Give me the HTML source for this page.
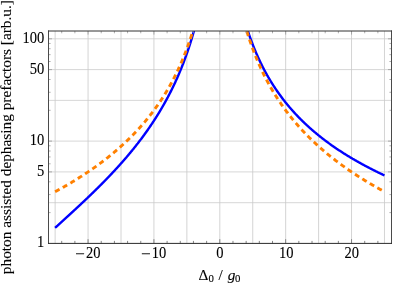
<!DOCTYPE html><html><head><meta charset="utf-8"><style>html,body{margin:0;padding:0;background:#fff}body{width:395px;height:284px;overflow:hidden;position:relative;font-family:"Liberation Serif",serif}</style></head><body><svg width="395" height="284" viewBox="0 0 395 284" style="position:absolute;left:0;top:0;will-change:transform">
<defs><clipPath id="c"><rect x="48.50" y="31.00" width="343.00" height="212.40"/></clipPath></defs>
<g stroke="#c6c6c6" stroke-width="0.75" fill="none"><line x1="55.13" y1="31.00" x2="55.13" y2="243.40"/><line x1="88.06" y1="31.00" x2="88.06" y2="243.40"/><line x1="121.00" y1="31.00" x2="121.00" y2="243.40"/><line x1="153.93" y1="31.00" x2="153.93" y2="243.40"/><line x1="186.87" y1="31.00" x2="186.87" y2="243.40"/><line x1="219.80" y1="31.00" x2="219.80" y2="243.40"/><line x1="252.74" y1="31.00" x2="252.74" y2="243.40"/><line x1="285.67" y1="31.00" x2="285.67" y2="243.40"/><line x1="318.61" y1="31.00" x2="318.61" y2="243.40"/><line x1="351.54" y1="31.00" x2="351.54" y2="243.40"/><line x1="384.48" y1="31.00" x2="384.48" y2="243.40"/></g>
<g stroke="#cacaca" stroke-width="0.75" fill="none"><line x1="48.50" y1="202.69" x2="391.50" y2="202.69"/><line x1="48.50" y1="171.90" x2="391.50" y2="171.90"/><line x1="48.50" y1="141.10" x2="391.50" y2="141.10"/><line x1="48.50" y1="100.39" x2="391.50" y2="100.39"/><line x1="48.50" y1="69.60" x2="391.50" y2="69.60"/><line x1="48.50" y1="38.80" x2="391.50" y2="38.80"/></g>
<g clip-path="url(#c)" fill="none" stroke-width="2.4">
<path d="M55.13,227.82 L55.49,227.49 L55.85,227.16 L56.21,226.83 L56.57,226.50 L56.94,226.17 L57.30,225.84 L57.66,225.51 L58.02,225.18 L58.39,224.85 L58.75,224.52 L59.11,224.19 L59.47,223.86 L59.83,223.53 L60.20,223.20 L60.56,222.87 L60.92,222.54 L61.28,222.21 L61.65,221.87 L62.01,221.54 L62.37,221.21 L62.73,220.88 L63.10,220.55 L63.46,220.22 L63.82,219.89 L64.18,219.56 L64.54,219.23 L64.91,218.90 L65.27,218.57 L65.63,218.23 L65.99,217.90 L66.36,217.57 L66.72,217.24 L67.08,216.91 L67.44,216.58 L67.80,216.24 L68.17,215.91 L68.53,215.58 L68.89,215.25 L69.25,214.91 L69.62,214.58 L69.98,214.25 L70.34,213.92 L70.70,213.58 L71.07,213.25 L71.43,212.92 L71.79,212.58 L72.15,212.25 L72.51,211.91 L72.88,211.58 L73.24,211.25 L73.60,210.91 L73.96,210.58 L74.33,210.24 L74.69,209.91 L75.05,209.57 L75.41,209.23 L75.78,208.90 L76.14,208.56 L76.50,208.23 L76.86,207.89 L77.22,207.55 L77.59,207.21 L77.95,206.88 L78.31,206.54 L78.67,206.20 L79.04,205.86 L79.40,205.53 L79.76,205.19 L80.12,204.85 L80.48,204.51 L80.85,204.17 L81.21,203.83 L81.57,203.49 L81.93,203.15 L82.30,202.81 L82.66,202.47 L83.02,202.12 L83.38,201.78 L83.75,201.44 L84.11,201.10 L84.47,200.76 L84.83,200.41 L85.19,200.07 L85.56,199.73 L85.92,199.38 L86.28,199.04 L86.64,198.69 L87.01,198.35 L87.37,198.00 L87.73,197.65 L88.09,197.31 L88.46,196.96 L88.82,196.61 L89.18,196.27 L89.54,195.92 L89.90,195.57 L90.27,195.22 L90.63,194.87 L90.99,194.52 L91.35,194.17 L91.72,193.82 L92.08,193.47 L92.44,193.12 L92.80,192.77 L93.16,192.41 L93.53,192.06 L93.89,191.71 L94.25,191.35 L94.61,191.00 L94.98,190.64 L95.34,190.29 L95.70,189.93 L96.06,189.58 L96.43,189.22 L96.79,188.86 L97.15,188.51 L97.51,188.15 L97.87,187.79 L98.24,187.43 L98.60,187.07 L98.96,186.71 L99.32,186.35 L99.69,185.98 L100.05,185.62 L100.41,185.26 L100.77,184.90 L101.14,184.53 L101.50,184.17 L101.86,183.80 L102.22,183.44 L102.58,183.07 L102.95,182.70 L103.31,182.34 L103.67,181.97 L104.03,181.60 L104.40,181.23 L104.76,180.86 L105.12,180.49 L105.48,180.12 L105.84,179.74 L106.21,179.37 L106.57,179.00 L106.93,178.62 L107.29,178.25 L107.66,177.87 L108.02,177.50 L108.38,177.12 L108.74,176.74 L109.11,176.36 L109.47,175.98 L109.83,175.60 L110.19,175.22 L110.55,174.84 L110.92,174.46 L111.28,174.08 L111.64,173.69 L112.00,173.31 L112.37,172.92 L112.73,172.54 L113.09,172.15 L113.45,171.76 L113.82,171.37 L114.18,170.98 L114.54,170.59 L114.90,170.20 L115.26,169.81 L115.63,169.41 L115.99,169.02 L116.35,168.63 L116.71,168.23 L117.08,167.83 L117.44,167.44 L117.80,167.04 L118.16,166.64 L118.52,166.24 L118.89,165.84 L119.25,165.44 L119.61,165.03 L119.97,164.63 L120.34,164.22 L120.70,163.82 L121.06,163.41 L121.42,163.00 L121.79,162.59 L122.15,162.18 L122.51,161.77 L122.87,161.36 L123.23,160.95 L123.60,160.53 L123.96,160.12 L124.32,159.70 L124.68,159.28 L125.05,158.86 L125.41,158.44 L125.77,158.02 L126.13,157.60 L126.50,157.18 L126.86,156.75 L127.22,156.33 L127.58,155.90 L127.94,155.47 L128.31,155.04 L128.67,154.61 L129.03,154.18 L129.39,153.75 L129.76,153.31 L130.12,152.88 L130.48,152.44 L130.84,152.00 L131.20,151.56 L131.57,151.12 L131.93,150.68 L132.29,150.24 L132.65,149.79 L133.02,149.35 L133.38,148.90 L133.74,148.45 L134.10,148.00 L134.47,147.55 L134.83,147.09 L135.19,146.64 L135.55,146.18 L135.91,145.73 L136.28,145.27 L136.64,144.81 L137.00,144.34 L137.36,143.88 L137.73,143.42 L138.09,142.95 L138.45,142.48 L138.81,142.01 L139.18,141.54 L139.54,141.07 L139.90,140.59 L140.26,140.11 L140.62,139.64 L140.99,139.16 L141.35,138.67 L141.71,138.19 L142.07,137.71 L142.44,137.22 L142.80,136.73 L143.16,136.24 L143.52,135.75 L143.88,135.25 L144.25,134.76 L144.61,134.26 L144.97,133.76 L145.33,133.26 L145.70,132.75 L146.06,132.25 L146.42,131.74 L146.78,131.23 L147.15,130.72 L147.51,130.20 L147.87,129.69 L148.23,129.17 L148.59,128.65 L148.96,128.13 L149.32,127.60 L149.68,127.07 L150.04,126.55 L150.41,126.01 L150.77,125.48 L151.13,124.94 L151.49,124.41 L151.86,123.86 L152.22,123.32 L152.58,122.78 L152.94,122.23 L153.30,121.68 L153.67,121.12 L154.03,120.57 L154.39,120.01 L154.75,119.45 L155.12,118.89 L155.48,118.32 L155.84,117.75 L156.20,117.18 L156.56,116.61 L156.93,116.03 L157.29,115.45 L157.65,114.87 L158.01,114.28 L158.38,113.69 L158.74,113.10 L159.10,112.51 L159.46,111.91 L159.83,111.31 L160.19,110.71 L160.55,110.10 L160.91,109.49 L161.27,108.88 L161.64,108.26 L162.00,107.64 L162.36,107.02 L162.72,106.39 L163.09,105.76 L163.45,105.13 L163.81,104.49 L164.17,103.85 L164.54,103.21 L164.90,102.56 L165.26,101.91 L165.62,101.25 L165.98,100.59 L166.35,99.93 L166.71,99.26 L167.07,98.59 L167.43,97.91 L167.80,97.24 L168.16,96.55 L168.52,95.86 L168.88,95.17 L169.24,94.47 L169.61,93.77 L169.97,93.07 L170.33,92.36 L170.69,91.64 L171.06,90.92 L171.42,90.20 L171.78,89.47 L172.14,88.74 L172.51,88.00 L172.87,87.25 L173.23,86.50 L173.59,85.75 L173.95,84.99 L174.32,84.22 L174.68,83.45 L175.04,82.67 L175.40,81.89 L175.77,81.10 L176.13,80.31 L176.49,79.51 L176.85,78.70 L177.22,77.89 L177.58,77.07 L177.94,76.25 L178.30,75.42 L178.66,74.58 L179.03,73.73 L179.39,72.88 L179.75,72.02 L180.11,71.15 L180.48,70.28 L180.84,69.40 L181.20,68.51 L181.56,67.61 L181.92,66.71 L182.29,65.80 L182.65,64.88 L183.01,63.95 L183.37,63.01 L183.74,62.07 L184.10,61.11 L184.46,60.15 L184.82,59.17 L185.19,58.19 L185.55,57.20 L185.91,56.20 L186.27,55.18 L186.63,54.16 L187.00,53.13 L187.36,52.09 L187.72,51.03 L188.08,49.97 L188.45,48.89 L188.81,47.80 L189.17,46.70 L189.53,45.58 L189.90,44.46 L190.26,43.32 L190.62,42.17 L190.98,41.00 L191.34,39.82 L191.71,38.63 L192.07,37.42 L192.43,36.19 L192.79,34.95 L193.16,33.70 L193.52,32.43 L193.88,31.14 L194.24,29.83 L194.60,28.51 L194.97,27.17 L195.33,25.81 L195.69,24.43 L196.05,23.03 L196.42,21.61 L196.78,20.17 L197.14,18.70 L197.50,17.22 L197.87,15.71 L198.23,14.17 L198.59,12.61 L198.95,11.03 L199.31,9.42 L199.68,7.78 L200.04,6.11" stroke="#0000ff"/>
<path d="M55.13,191.72 L55.49,191.53 L55.85,191.33 L56.21,191.13 L56.57,190.94 L56.94,190.74 L57.30,190.54 L57.66,190.34 L58.02,190.15 L58.39,189.95 L58.75,189.75 L59.11,189.55 L59.47,189.35 L59.83,189.14 L60.20,188.94 L60.56,188.74 L60.92,188.54 L61.28,188.34 L61.65,188.13 L62.01,187.93 L62.37,187.72 L62.73,187.52 L63.10,187.31 L63.46,187.11 L63.82,186.90 L64.18,186.70 L64.54,186.49 L64.91,186.28 L65.27,186.07 L65.63,185.87 L65.99,185.66 L66.36,185.45 L66.72,185.24 L67.08,185.03 L67.44,184.81 L67.80,184.60 L68.17,184.39 L68.53,184.18 L68.89,183.97 L69.25,183.75 L69.62,183.54 L69.98,183.32 L70.34,183.11 L70.70,182.89 L71.07,182.68 L71.43,182.46 L71.79,182.24 L72.15,182.02 L72.51,181.81 L72.88,181.59 L73.24,181.37 L73.60,181.15 L73.96,180.93 L74.33,180.71 L74.69,180.49 L75.05,180.26 L75.41,180.04 L75.78,179.82 L76.14,179.59 L76.50,179.37 L76.86,179.14 L77.22,178.92 L77.59,178.69 L77.95,178.47 L78.31,178.24 L78.67,178.01 L79.04,177.78 L79.40,177.55 L79.76,177.32 L80.12,177.09 L80.48,176.86 L80.85,176.63 L81.21,176.40 L81.57,176.17 L81.93,175.93 L82.30,175.70 L82.66,175.47 L83.02,175.23 L83.38,175.00 L83.75,174.76 L84.11,174.52 L84.47,174.28 L84.83,174.05 L85.19,173.81 L85.56,173.57 L85.92,173.33 L86.28,173.09 L86.64,172.85 L87.01,172.60 L87.37,172.36 L87.73,172.12 L88.09,171.87 L88.46,171.63 L88.82,171.38 L89.18,171.14 L89.54,170.89 L89.90,170.64 L90.27,170.39 L90.63,170.15 L90.99,169.90 L91.35,169.65 L91.72,169.39 L92.08,169.14 L92.44,168.89 L92.80,168.64 L93.16,168.38 L93.53,168.13 L93.89,167.87 L94.25,167.62 L94.61,167.36 L94.98,167.10 L95.34,166.85 L95.70,166.59 L96.06,166.33 L96.43,166.07 L96.79,165.80 L97.15,165.54 L97.51,165.28 L97.87,165.02 L98.24,164.75 L98.60,164.49 L98.96,164.22 L99.32,163.95 L99.69,163.69 L100.05,163.42 L100.41,163.15 L100.77,162.88 L101.14,162.61 L101.50,162.34 L101.86,162.06 L102.22,161.79 L102.58,161.52 L102.95,161.24 L103.31,160.96 L103.67,160.69 L104.03,160.41 L104.40,160.13 L104.76,159.85 L105.12,159.57 L105.48,159.29 L105.84,159.01 L106.21,158.73 L106.57,158.44 L106.93,158.16 L107.29,157.87 L107.66,157.59 L108.02,157.30 L108.38,157.01 L108.74,156.72 L109.11,156.43 L109.47,156.14 L109.83,155.85 L110.19,155.55 L110.55,155.26 L110.92,154.96 L111.28,154.67 L111.64,154.37 L112.00,154.07 L112.37,153.77 L112.73,153.47 L113.09,153.17 L113.45,152.87 L113.82,152.57 L114.18,152.26 L114.54,151.96 L114.90,151.65 L115.26,151.34 L115.63,151.03 L115.99,150.72 L116.35,150.41 L116.71,150.10 L117.08,149.79 L117.44,149.48 L117.80,149.16 L118.16,148.84 L118.52,148.53 L118.89,148.21 L119.25,147.89 L119.61,147.57 L119.97,147.25 L120.34,146.92 L120.70,146.60 L121.06,146.27 L121.42,145.95 L121.79,145.62 L122.15,145.29 L122.51,144.96 L122.87,144.63 L123.23,144.30 L123.60,143.96 L123.96,143.63 L124.32,143.29 L124.68,142.95 L125.05,142.61 L125.41,142.27 L125.77,141.93 L126.13,141.59 L126.50,141.24 L126.86,140.90 L127.22,140.55 L127.58,140.20 L127.94,139.85 L128.31,139.50 L128.67,139.15 L129.03,138.80 L129.39,138.44 L129.76,138.08 L130.12,137.72 L130.48,137.36 L130.84,137.00 L131.20,136.64 L131.57,136.28 L131.93,135.91 L132.29,135.54 L132.65,135.18 L133.02,134.81 L133.38,134.43 L133.74,134.06 L134.10,133.69 L134.47,133.31 L134.83,132.93 L135.19,132.55 L135.55,132.17 L135.91,131.79 L136.28,131.40 L136.64,131.02 L137.00,130.63 L137.36,130.24 L137.73,129.85 L138.09,129.45 L138.45,129.06 L138.81,128.66 L139.18,128.26 L139.54,127.86 L139.90,127.46 L140.26,127.06 L140.62,126.65 L140.99,126.25 L141.35,125.84 L141.71,125.42 L142.07,125.01 L142.44,124.60 L142.80,124.18 L143.16,123.76 L143.52,123.34 L143.88,122.92 L144.25,122.49 L144.61,122.06 L144.97,121.64 L145.33,121.20 L145.70,120.77 L146.06,120.33 L146.42,119.90 L146.78,119.46 L147.15,119.02 L147.51,118.57 L147.87,118.12 L148.23,117.68 L148.59,117.23 L148.96,116.77 L149.32,116.32 L149.68,115.86 L150.04,115.40 L150.41,114.94 L150.77,114.47 L151.13,114.00 L151.49,113.53 L151.86,113.06 L152.22,112.59 L152.58,112.11 L152.94,111.63 L153.30,111.14 L153.67,110.66 L154.03,110.17 L154.39,109.68 L154.75,109.19 L155.12,108.69 L155.48,108.19 L155.84,107.69 L156.20,107.18 L156.56,106.68 L156.93,106.17 L157.29,105.65 L157.65,105.14 L158.01,104.62 L158.38,104.09 L158.74,103.57 L159.10,103.04 L159.46,102.51 L159.83,101.97 L160.19,101.43 L160.55,100.89 L160.91,100.35 L161.27,99.80 L161.64,99.25 L162.00,98.69 L162.36,98.13 L162.72,97.57 L163.09,97.01 L163.45,96.44 L163.81,95.86 L164.17,95.29 L164.54,94.71 L164.90,94.12 L165.26,93.53 L165.62,92.94 L165.98,92.35 L166.35,91.75 L166.71,91.14 L167.07,90.53 L167.43,89.92 L167.80,89.30 L168.16,88.68 L168.52,88.06 L168.88,87.43 L169.24,86.79 L169.61,86.15 L169.97,85.51 L170.33,84.86 L170.69,84.21 L171.06,83.55 L171.42,82.89 L171.78,82.22 L172.14,81.55 L172.51,80.87 L172.87,80.18 L173.23,79.50 L173.59,78.80 L173.95,78.10 L174.32,77.40 L174.68,76.69 L175.04,75.97 L175.40,75.25 L175.77,74.52 L176.13,73.79 L176.49,73.05 L176.85,72.30 L177.22,71.55 L177.58,70.79 L177.94,70.02 L178.30,69.25 L178.66,68.47 L179.03,67.68 L179.39,66.89 L179.75,66.09 L180.11,65.28 L180.48,64.47 L180.84,63.65 L181.20,62.82 L181.56,61.98 L181.92,61.13 L182.29,60.28 L182.65,59.42 L183.01,58.55 L183.37,57.67 L183.74,56.78 L184.10,55.88 L184.46,54.97 L184.82,54.06 L185.19,53.13 L185.55,52.20 L185.91,51.25 L186.27,50.30 L186.63,49.33 L187.00,48.36 L187.36,47.37 L187.72,46.37 L188.08,45.36 L188.45,44.34 L188.81,43.31 L189.17,42.27 L189.53,41.21 L189.90,40.14 L190.26,39.06 L190.62,37.96 L190.98,36.85 L191.34,35.72 L191.71,34.59 L192.07,33.43 L192.43,32.26 L192.79,31.08 L193.16,29.88 L193.52,28.66 L193.88,27.43 L194.24,26.18 L194.60,24.91 L194.97,23.62 L195.33,22.32 L195.69,20.99 L196.05,19.65 L196.42,18.28 L196.78,16.89 L197.14,15.48 L197.50,14.05 L197.87,12.60 L198.23,11.12 L198.59,9.61 L198.95,8.08 L199.31,6.52 L199.68,4.94 L200.04,3.32" stroke="#ff8000" stroke-width="2.9" stroke-dasharray="5.02 3.71" stroke-dashoffset="0.0"/>
<path d="M239.56,0.77 L239.92,2.34 L240.29,3.88 L240.65,5.39 L241.01,6.88 L241.37,8.34 L241.73,9.77 L242.10,11.18 L242.46,12.57 L242.82,13.94 L243.18,15.28 L243.55,16.60 L243.91,17.90 L244.27,19.19 L244.63,20.45 L245.00,21.69 L245.36,22.92 L245.72,24.12 L246.08,25.31 L246.44,26.48 L246.81,27.64 L247.17,28.78 L247.53,29.91 L247.89,31.02 L248.26,32.11 L248.62,33.19 L248.98,34.26 L249.34,35.31 L249.70,36.35 L250.07,37.38 L250.43,38.39 L250.79,39.40 L251.15,40.39 L251.52,41.36 L251.88,42.33 L252.24,43.29 L252.60,44.23 L252.97,45.16 L253.33,46.09 L253.69,47.00 L254.05,47.90 L254.41,48.79 L254.78,49.68 L255.14,50.55 L255.50,51.41 L255.86,52.27 L256.23,53.12 L256.59,53.95 L256.95,54.78 L257.31,55.60 L257.68,56.42 L258.04,57.22 L258.40,58.02 L258.76,58.80 L259.12,59.59 L259.49,60.36 L259.85,61.12 L260.21,61.88 L260.57,62.64 L260.94,63.38 L261.30,64.12 L261.66,64.85 L262.02,65.57 L262.38,66.29 L262.75,67.00 L263.11,67.71 L263.47,68.41 L263.83,69.10 L264.20,69.79 L264.56,70.47 L264.92,71.15 L265.28,71.82 L265.65,72.48 L266.01,73.14 L266.37,73.80 L266.73,74.44 L267.09,75.09 L267.46,75.72 L267.82,76.36 L268.18,76.99 L268.54,77.61 L268.91,78.23 L269.27,78.84 L269.63,79.45 L269.99,80.05 L270.36,80.65 L270.72,81.25 L271.08,81.84 L271.44,82.42 L271.80,83.01 L272.17,83.58 L272.53,84.16 L272.89,84.73 L273.25,85.29 L273.62,85.85 L273.98,86.41 L274.34,86.96 L274.70,87.51 L275.06,88.06 L275.43,88.60 L275.79,89.14 L276.15,89.67 L276.51,90.20 L276.88,90.73 L277.24,91.25 L277.60,91.77 L277.96,92.29 L278.33,92.80 L278.69,93.31 L279.05,93.82 L279.41,94.32 L279.77,94.82 L280.14,95.32 L280.50,95.81 L280.86,96.30 L281.22,96.79 L281.59,97.28 L281.95,97.76 L282.31,98.24 L282.67,98.71 L283.04,99.18 L283.40,99.65 L283.76,100.12 L284.12,100.59 L284.48,101.05 L284.85,101.51 L285.21,101.96 L285.57,102.42 L285.93,102.87 L286.30,103.31 L286.66,103.76 L287.02,104.20 L287.38,104.64 L287.74,105.08 L288.11,105.52 L288.47,105.95 L288.83,106.38 L289.19,106.81 L289.56,107.23 L289.92,107.66 L290.28,108.08 L290.64,108.50 L291.01,108.92 L291.37,109.33 L291.73,109.74 L292.09,110.15 L292.45,110.56 L292.82,110.97 L293.18,111.37 L293.54,111.77 L293.90,112.17 L294.27,112.57 L294.63,112.96 L294.99,113.35 L295.35,113.75 L295.72,114.13 L296.08,114.52 L296.44,114.91 L296.80,115.29 L297.16,115.67 L297.53,116.05 L297.89,116.43 L298.25,116.80 L298.61,117.18 L298.98,117.55 L299.34,117.92 L299.70,118.29 L300.06,118.66 L300.42,119.02 L300.79,119.38 L301.15,119.74 L301.51,120.10 L301.87,120.46 L302.24,120.82 L302.60,121.17 L302.96,121.53 L303.32,121.88 L303.69,122.23 L304.05,122.57 L304.41,122.92 L304.77,123.27 L305.13,123.61 L305.50,123.95 L305.86,124.29 L306.22,124.63 L306.58,124.97 L306.95,125.30 L307.31,125.64 L307.67,125.97 L308.03,126.30 L308.40,126.63 L308.76,126.96 L309.12,127.29 L309.48,127.61 L309.84,127.94 L310.21,128.26 L310.57,128.58 L310.93,128.90 L311.29,129.22 L311.66,129.54 L312.02,129.85 L312.38,130.17 L312.74,130.48 L313.10,130.79 L313.47,131.10 L313.83,131.41 L314.19,131.72 L314.55,132.03 L314.92,132.33 L315.28,132.64 L315.64,132.94 L316.00,133.24 L316.37,133.54 L316.73,133.84 L317.09,134.14 L317.45,134.44 L317.81,134.73 L318.18,135.03 L318.54,135.32 L318.90,135.61 L319.26,135.90 L319.63,136.19 L319.99,136.48 L320.35,136.77 L320.71,137.06 L321.08,137.34 L321.44,137.63 L321.80,137.91 L322.16,138.19 L322.52,138.48 L322.89,138.76 L323.25,139.04 L323.61,139.31 L323.97,139.59 L324.34,139.87 L324.70,140.14 L325.06,140.42 L325.42,140.69 L325.78,140.96 L326.15,141.23 L326.51,141.50 L326.87,141.77 L327.23,142.04 L327.60,142.31 L327.96,142.57 L328.32,142.84 L328.68,143.10 L329.05,143.37 L329.41,143.63 L329.77,143.89 L330.13,144.15 L330.49,144.41 L330.86,144.67 L331.22,144.93 L331.58,145.18 L331.94,145.44 L332.31,145.69 L332.67,145.95 L333.03,146.20 L333.39,146.45 L333.76,146.71 L334.12,146.96 L334.48,147.21 L334.84,147.46 L335.20,147.70 L335.57,147.95 L335.93,148.20 L336.29,148.44 L336.65,148.69 L337.02,148.93 L337.38,149.18 L337.74,149.42 L338.10,149.66 L338.46,149.90 L338.83,150.14 L339.19,150.38 L339.55,150.62 L339.91,150.86 L340.28,151.09 L340.64,151.33 L341.00,151.57 L341.36,151.80 L341.73,152.03 L342.09,152.27 L342.45,152.50 L342.81,152.73 L343.17,152.96 L343.54,153.19 L343.90,153.42 L344.26,153.65 L344.62,153.88 L344.99,154.11 L345.35,154.33 L345.71,154.56 L346.07,154.79 L346.44,155.01 L346.80,155.23 L347.16,155.46 L347.52,155.68 L347.88,155.90 L348.25,156.12 L348.61,156.34 L348.97,156.56 L349.33,156.78 L349.70,157.00 L350.06,157.22 L350.42,157.44 L350.78,157.65 L351.14,157.87 L351.51,158.08 L351.87,158.30 L352.23,158.51 L352.59,158.73 L352.96,158.94 L353.32,159.15 L353.68,159.36 L354.04,159.57 L354.41,159.78 L354.77,159.99 L355.13,160.20 L355.49,160.41 L355.85,160.62 L356.22,160.83 L356.58,161.03 L356.94,161.24 L357.30,161.45 L357.67,161.65 L358.03,161.86 L358.39,162.06 L358.75,162.26 L359.12,162.47 L359.48,162.67 L359.84,162.87 L360.20,163.07 L360.56,163.27 L360.93,163.47 L361.29,163.67 L361.65,163.87 L362.01,164.07 L362.38,164.26 L362.74,164.46 L363.10,164.66 L363.46,164.85 L363.82,165.05 L364.19,165.25 L364.55,165.44 L364.91,165.63 L365.27,165.83 L365.64,166.02 L366.00,166.21 L366.36,166.41 L366.72,166.60 L367.09,166.79 L367.45,166.98 L367.81,167.17 L368.17,167.36 L368.53,167.55 L368.90,167.74 L369.26,167.92 L369.62,168.11 L369.98,168.30 L370.35,168.48 L370.71,168.67 L371.07,168.86 L371.43,169.04 L371.80,169.23 L372.16,169.41 L372.52,169.59 L372.88,169.78 L373.24,169.96 L373.61,170.14 L373.97,170.32 L374.33,170.51 L374.69,170.69 L375.06,170.87 L375.42,171.05 L375.78,171.23 L376.14,171.41 L376.50,171.58 L376.87,171.76 L377.23,171.94 L377.59,172.12 L377.95,172.29 L378.32,172.47 L378.68,172.65 L379.04,172.82 L379.40,173.00 L379.77,173.17 L380.13,173.35 L380.49,173.52 L380.85,173.69 L381.21,173.87 L381.58,174.04 L381.94,174.21 L382.30,174.38 L382.66,174.56 L383.03,174.73 L383.39,174.90 L383.75,175.07 L384.11,175.24 L384.48,175.41" stroke="#0000ff"/>
<path d="M239.56,3.32 L239.92,4.92 L240.28,6.49 L240.64,8.04 L241.00,9.56 L241.36,11.05 L241.71,12.52 L242.07,13.96 L242.43,15.38 L242.79,16.78 L243.15,18.16 L243.51,19.51 L243.87,20.85 L244.23,22.16 L244.59,23.46 L244.95,24.74 L245.30,26.00 L245.66,27.24 L246.02,28.46 L246.38,29.67 L246.74,30.86 L247.10,32.04 L247.46,33.20 L247.82,34.35 L248.18,35.48 L248.54,36.59 L248.89,37.70 L249.25,38.79 L249.61,39.86 L249.97,40.93 L250.33,41.98 L250.69,43.02 L251.05,44.04 L251.41,45.06 L251.77,46.06 L252.13,47.05 L252.48,48.04 L252.84,49.01 L253.20,49.97 L253.56,50.92 L253.92,51.86 L254.28,52.79 L254.64,53.71 L255.00,54.62 L255.36,55.52 L255.72,56.41 L256.07,57.30 L256.43,58.17 L256.79,59.04 L257.15,59.90 L257.51,60.75 L257.87,61.59 L258.23,62.42 L258.59,63.25 L258.95,64.07 L259.31,64.88 L259.66,65.68 L260.02,66.48 L260.38,67.27 L260.74,68.05 L261.10,68.83 L261.46,69.59 L261.82,70.36 L262.18,71.11 L262.54,71.86 L262.90,72.61 L263.25,73.34 L263.61,74.07 L263.97,74.80 L264.33,75.52 L264.69,76.23 L265.05,76.94 L265.41,77.64 L265.77,78.34 L266.13,79.03 L266.49,79.72 L266.84,80.40 L267.20,81.07 L267.56,81.74 L267.92,82.41 L268.28,83.07 L268.64,83.72 L269.00,84.37 L269.36,85.02 L269.72,85.66 L270.08,86.30 L270.43,86.93 L270.79,87.56 L271.15,88.18 L271.51,88.80 L271.87,89.42 L272.23,90.03 L272.59,90.63 L272.95,91.23 L273.31,91.83 L273.67,92.43 L274.02,93.02 L274.38,93.60 L274.74,94.19 L275.10,94.76 L275.46,95.34 L275.82,95.91 L276.18,96.48 L276.54,97.04 L276.90,97.60 L277.26,98.16 L277.61,98.71 L277.97,99.26 L278.33,99.81 L278.69,100.35 L279.05,100.89 L279.41,101.43 L279.77,101.96 L280.13,102.49 L280.49,103.02 L280.85,103.55 L281.20,104.07 L281.56,104.58 L281.92,105.10 L282.28,105.61 L282.64,106.12 L283.00,106.63 L283.36,107.13 L283.72,107.63 L284.08,108.13 L284.43,108.62 L284.79,109.11 L285.15,109.60 L285.51,110.09 L285.87,110.58 L286.23,111.06 L286.59,111.54 L286.95,112.01 L287.31,112.49 L287.67,112.96 L288.02,113.43 L288.38,113.89 L288.74,114.36 L289.10,114.82 L289.46,115.28 L289.82,115.73 L290.18,116.19 L290.54,116.64 L290.90,117.09 L291.26,117.54 L291.61,117.98 L291.97,118.43 L292.33,118.87 L292.69,119.31 L293.05,119.74 L293.41,120.18 L293.77,120.61 L294.13,121.04 L294.49,121.47 L294.85,121.89 L295.20,122.32 L295.56,122.74 L295.92,123.16 L296.28,123.58 L296.64,123.99 L297.00,124.41 L297.36,124.82 L297.72,125.23 L298.08,125.64 L298.44,126.04 L298.79,126.45 L299.15,126.85 L299.51,127.25 L299.87,127.65 L300.23,128.05 L300.59,128.45 L300.95,128.84 L301.31,129.23 L301.67,129.62 L302.03,130.01 L302.38,130.40 L302.74,130.78 L303.10,131.17 L303.46,131.55 L303.82,131.93 L304.18,132.31 L304.54,132.69 L304.90,133.06 L305.26,133.44 L305.62,133.81 L305.97,134.18 L306.33,134.55 L306.69,134.92 L307.05,135.28 L307.41,135.65 L307.77,136.01 L308.13,136.37 L308.49,136.73 L308.85,137.09 L309.21,137.45 L309.56,137.81 L309.92,138.16 L310.28,138.51 L310.64,138.87 L311.00,139.22 L311.36,139.57 L311.72,139.91 L312.08,140.26 L312.44,140.60 L312.80,140.95 L313.15,141.29 L313.51,141.63 L313.87,141.97 L314.23,142.31 L314.59,142.65 L314.95,142.98 L315.31,143.32 L315.67,143.65 L316.03,143.98 L316.39,144.31 L316.74,144.64 L317.10,144.97 L317.46,145.30 L317.82,145.63 L318.18,145.95 L318.54,146.27 L318.90,146.60 L319.26,146.92 L319.62,147.24 L319.98,147.56 L320.33,147.87 L320.69,148.19 L321.05,148.51 L321.41,148.82 L321.77,149.13 L322.13,149.45 L322.49,149.76 L322.85,150.07 L323.21,150.38 L323.57,150.69 L323.92,150.99 L324.28,151.30 L324.64,151.60 L325.00,151.91 L325.36,152.21 L325.72,152.51 L326.08,152.81 L326.44,153.11 L326.80,153.41 L327.15,153.71 L327.51,154.00 L327.87,154.30 L328.23,154.59 L328.59,154.89 L328.95,155.18 L329.31,155.47 L329.67,155.76 L330.03,156.05 L330.39,156.34 L330.74,156.63 L331.10,156.92 L331.46,157.20 L331.82,157.49 L332.18,157.77 L332.54,158.06 L332.90,158.34 L333.26,158.62 L333.62,158.90 L333.98,159.18 L334.33,159.46 L334.69,159.74 L335.05,160.01 L335.41,160.29 L335.77,160.57 L336.13,160.84 L336.49,161.12 L336.85,161.39 L337.21,161.66 L337.57,161.93 L337.92,162.20 L338.28,162.47 L338.64,162.74 L339.00,163.01 L339.36,163.28 L339.72,163.54 L340.08,163.81 L340.44,164.07 L340.80,164.34 L341.16,164.60 L341.51,164.86 L341.87,165.12 L342.23,165.38 L342.59,165.65 L342.95,165.90 L343.31,166.16 L343.67,166.42 L344.03,166.68 L344.39,166.93 L344.75,167.19 L345.10,167.45 L345.46,167.70 L345.82,167.95 L346.18,168.21 L346.54,168.46 L346.90,168.71 L347.26,168.96 L347.62,169.21 L347.98,169.46 L348.34,169.71 L348.69,169.96 L349.05,170.20 L349.41,170.45 L349.77,170.69 L350.13,170.94 L350.49,171.18 L350.85,171.43 L351.21,171.67 L351.57,171.91 L351.93,172.15 L352.28,172.40 L352.64,172.64 L353.00,172.88 L353.36,173.12 L353.72,173.35 L354.08,173.59 L354.44,173.83 L354.80,174.07 L355.16,174.30 L355.52,174.54 L355.87,174.77 L356.23,175.01 L356.59,175.24 L356.95,175.47 L357.31,175.70 L357.67,175.94 L358.03,176.17 L358.39,176.40 L358.75,176.63 L359.11,176.86 L359.46,177.09 L359.82,177.31 L360.18,177.54 L360.54,177.77 L360.90,177.99 L361.26,178.22 L361.62,178.45 L361.98,178.67 L362.34,178.89 L362.70,179.12 L363.05,179.34 L363.41,179.56 L363.77,179.78 L364.13,180.01 L364.49,180.23 L364.85,180.45 L365.21,180.67 L365.57,180.89 L365.93,181.10 L366.28,181.32 L366.64,181.54 L367.00,181.76 L367.36,181.97 L367.72,182.19 L368.08,182.40 L368.44,182.62 L368.80,182.83 L369.16,183.05 L369.52,183.26 L369.87,183.47 L370.23,183.69 L370.59,183.90 L370.95,184.11 L371.31,184.32 L371.67,184.53 L372.03,184.74 L372.39,184.95 L372.75,185.16 L373.11,185.37 L373.46,185.57 L373.82,185.78 L374.18,185.99 L374.54,186.19 L374.90,186.40 L375.26,186.61 L375.62,186.81 L375.98,187.02 L376.34,187.22 L376.70,187.42 L377.05,187.63 L377.41,187.83 L377.77,188.03 L378.13,188.23 L378.49,188.43 L378.85,188.63 L379.21,188.84 L379.57,189.03 L379.93,189.23 L380.29,189.43 L380.64,189.63 L381.00,189.83 L381.36,190.03 L381.72,190.22 L382.08,190.42 L382.44,190.62 L382.80,190.81 L383.16,191.01" stroke="#ff8000" stroke-width="2.9" stroke-dasharray="5.02 3.71" stroke-dashoffset="6.1"/>
</g>
<g stroke="#777" stroke-width="0.9" fill="none"><line x1="61.71" y1="243.40" x2="61.71" y2="240.90"/><line x1="74.89" y1="243.40" x2="74.89" y2="240.90"/><line x1="88.06" y1="243.40" x2="88.06" y2="239.20"/><line x1="101.23" y1="243.40" x2="101.23" y2="240.90"/><line x1="114.41" y1="243.40" x2="114.41" y2="240.90"/><line x1="127.58" y1="243.40" x2="127.58" y2="240.90"/><line x1="140.76" y1="243.40" x2="140.76" y2="240.90"/><line x1="153.93" y1="243.40" x2="153.93" y2="239.20"/><line x1="167.10" y1="243.40" x2="167.10" y2="240.90"/><line x1="180.28" y1="243.40" x2="180.28" y2="240.90"/><line x1="193.45" y1="243.40" x2="193.45" y2="240.90"/><line x1="206.63" y1="243.40" x2="206.63" y2="240.90"/><line x1="219.80" y1="243.40" x2="219.80" y2="239.20"/><line x1="232.97" y1="243.40" x2="232.97" y2="240.90"/><line x1="246.15" y1="243.40" x2="246.15" y2="240.90"/><line x1="259.32" y1="243.40" x2="259.32" y2="240.90"/><line x1="272.50" y1="243.40" x2="272.50" y2="240.90"/><line x1="285.67" y1="243.40" x2="285.67" y2="239.20"/><line x1="298.84" y1="243.40" x2="298.84" y2="240.90"/><line x1="312.02" y1="243.40" x2="312.02" y2="240.90"/><line x1="325.19" y1="243.40" x2="325.19" y2="240.90"/><line x1="338.37" y1="243.40" x2="338.37" y2="240.90"/><line x1="351.54" y1="243.40" x2="351.54" y2="239.20"/><line x1="364.71" y1="243.40" x2="364.71" y2="240.90"/><line x1="377.89" y1="243.40" x2="377.89" y2="240.90"/></g>
<g stroke="#999" stroke-width="0.8" fill="none"><line x1="61.71" y1="31.00" x2="61.71" y2="33.30"/><line x1="74.89" y1="31.00" x2="74.89" y2="33.30"/><line x1="88.06" y1="31.00" x2="88.06" y2="34.60"/><line x1="101.23" y1="31.00" x2="101.23" y2="33.30"/><line x1="114.41" y1="31.00" x2="114.41" y2="33.30"/><line x1="127.58" y1="31.00" x2="127.58" y2="33.30"/><line x1="140.76" y1="31.00" x2="140.76" y2="33.30"/><line x1="153.93" y1="31.00" x2="153.93" y2="34.60"/><line x1="167.10" y1="31.00" x2="167.10" y2="33.30"/><line x1="180.28" y1="31.00" x2="180.28" y2="33.30"/><line x1="193.45" y1="31.00" x2="193.45" y2="33.30"/><line x1="206.63" y1="31.00" x2="206.63" y2="33.30"/><line x1="219.80" y1="31.00" x2="219.80" y2="34.60"/><line x1="232.97" y1="31.00" x2="232.97" y2="33.30"/><line x1="246.15" y1="31.00" x2="246.15" y2="33.30"/><line x1="259.32" y1="31.00" x2="259.32" y2="33.30"/><line x1="272.50" y1="31.00" x2="272.50" y2="33.30"/><line x1="285.67" y1="31.00" x2="285.67" y2="34.60"/><line x1="298.84" y1="31.00" x2="298.84" y2="33.30"/><line x1="312.02" y1="31.00" x2="312.02" y2="33.30"/><line x1="325.19" y1="31.00" x2="325.19" y2="33.30"/><line x1="338.37" y1="31.00" x2="338.37" y2="33.30"/><line x1="351.54" y1="31.00" x2="351.54" y2="34.60"/><line x1="364.71" y1="31.00" x2="364.71" y2="33.30"/><line x1="377.89" y1="31.00" x2="377.89" y2="33.30"/><line x1="48.50" y1="212.60" x2="50.60" y2="212.60"/><line x1="391.50" y1="212.60" x2="389.40" y2="212.60"/><line x1="48.50" y1="194.59" x2="50.60" y2="194.59"/><line x1="391.50" y1="194.59" x2="389.40" y2="194.59"/><line x1="48.50" y1="181.81" x2="50.60" y2="181.81"/><line x1="391.50" y1="181.81" x2="389.40" y2="181.81"/><line x1="48.50" y1="171.90" x2="52.00" y2="171.90"/><line x1="391.50" y1="171.90" x2="388.00" y2="171.90"/><line x1="48.50" y1="163.80" x2="50.60" y2="163.80"/><line x1="391.50" y1="163.80" x2="389.40" y2="163.80"/><line x1="48.50" y1="156.95" x2="50.60" y2="156.95"/><line x1="391.50" y1="156.95" x2="389.40" y2="156.95"/><line x1="48.50" y1="151.01" x2="50.60" y2="151.01"/><line x1="391.50" y1="151.01" x2="389.40" y2="151.01"/><line x1="48.50" y1="145.78" x2="50.60" y2="145.78"/><line x1="391.50" y1="145.78" x2="389.40" y2="145.78"/><line x1="48.50" y1="141.10" x2="52.00" y2="141.10"/><line x1="391.50" y1="141.10" x2="388.00" y2="141.10"/><line x1="48.50" y1="110.30" x2="50.60" y2="110.30"/><line x1="391.50" y1="110.30" x2="389.40" y2="110.30"/><line x1="48.50" y1="92.29" x2="50.60" y2="92.29"/><line x1="391.50" y1="92.29" x2="389.40" y2="92.29"/><line x1="48.50" y1="79.51" x2="50.60" y2="79.51"/><line x1="391.50" y1="79.51" x2="389.40" y2="79.51"/><line x1="48.50" y1="69.60" x2="52.00" y2="69.60"/><line x1="391.50" y1="69.60" x2="388.00" y2="69.60"/><line x1="48.50" y1="61.50" x2="50.60" y2="61.50"/><line x1="391.50" y1="61.50" x2="389.40" y2="61.50"/><line x1="48.50" y1="54.65" x2="50.60" y2="54.65"/><line x1="391.50" y1="54.65" x2="389.40" y2="54.65"/><line x1="48.50" y1="48.71" x2="50.60" y2="48.71"/><line x1="391.50" y1="48.71" x2="389.40" y2="48.71"/><line x1="48.50" y1="43.48" x2="50.60" y2="43.48"/><line x1="391.50" y1="43.48" x2="389.40" y2="43.48"/><line x1="48.50" y1="38.80" x2="52.00" y2="38.80"/><line x1="391.50" y1="38.80" x2="388.00" y2="38.80"/></g>
<g fill="none" stroke-width="1"><line x1="48.50" y1="30.50" x2="48.50" y2="243.90" stroke="#4a4a4a"/><line x1="391.50" y1="30.50" x2="391.50" y2="243.90" stroke="#4a4a4a"/><line x1="48.00" y1="31.00" x2="392.00" y2="31.00" stroke="#333"/><line x1="48.00" y1="243.40" x2="392.00" y2="243.40" stroke="#2a2a2a"/></g>
<g font-family="'Liberation Serif', serif" font-size="15.3" fill="#000" stroke="#000" stroke-width="0.1">
<text transform="translate(44.2,43.10) scale(0.95,1.1)" text-anchor="end">100</text>
<text transform="translate(44.2,73.90) scale(0.95,1.1)" text-anchor="end">50</text>
<text transform="translate(44.2,145.40) scale(0.95,1.1)" text-anchor="end">10</text>
<text transform="translate(44.2,176.20) scale(0.95,1.1)" text-anchor="end">5</text>
<text transform="translate(44.2,246.90) scale(0.95,1.1)" text-anchor="end">1</text>
<line x1="75.96" y1="253.75" x2="84.11" y2="253.75" stroke="#222" stroke-width="1.05"/>
<text transform="translate(85.96,258.0) scale(0.95,1.1)" text-anchor="start">20</text>
<line x1="141.83" y1="253.75" x2="149.98" y2="253.75" stroke="#222" stroke-width="1.05"/>
<text transform="translate(151.83,258.0) scale(0.95,1.1)" text-anchor="start">10</text>
<text transform="translate(219.80,258.0) scale(0.95,1.1)" text-anchor="middle">0</text>
<text transform="translate(286.17,258.0) scale(0.95,1.1)" text-anchor="middle">10</text>
<text transform="translate(351.74,258.0) scale(0.95,1.1)" text-anchor="middle">20</text>
<text x="198.6" y="280">Δ<tspan font-size="10.8" dy="2.2">0</tspan><tspan dy="-2.2" dx="0.75"> / </tspan><tspan font-style="italic" dx="1.15">g</tspan><tspan font-size="10.8" dy="2.2" dx="-0.4">0</tspan></text>
<text transform="translate(11.3,274.2) rotate(-90)" x="0" y="0" font-size="15.34">photon assisted dephasing prefactors [arb.u.]</text>
</g></svg></body></html>
